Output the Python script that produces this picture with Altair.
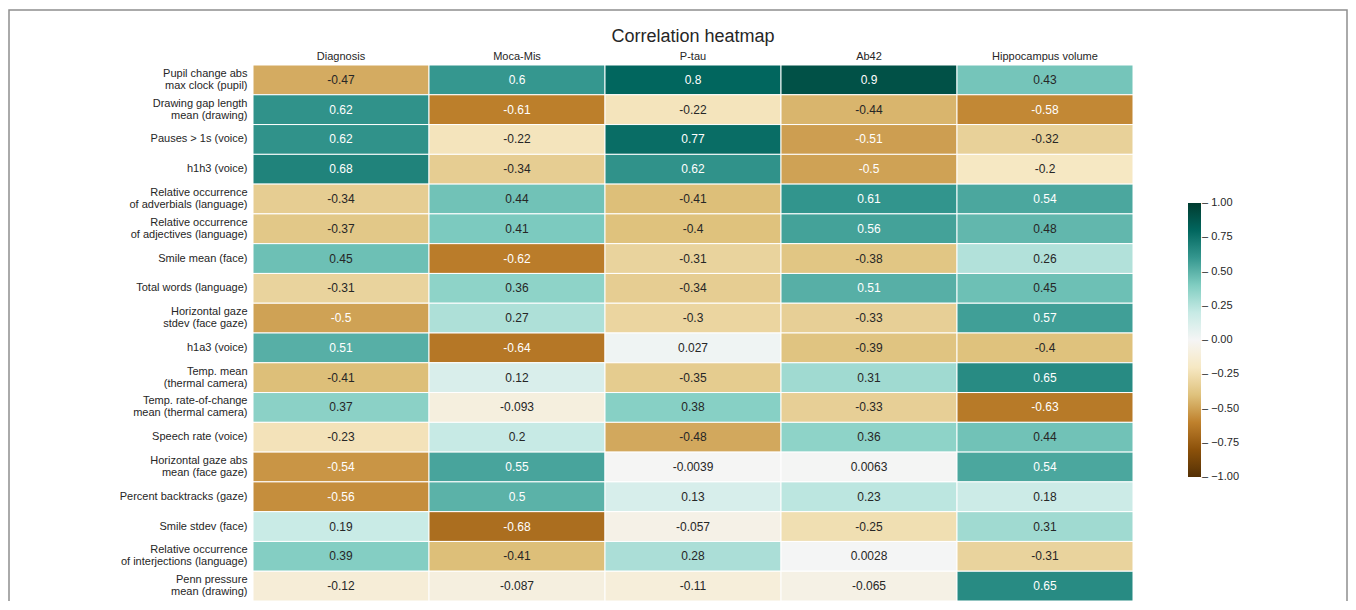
import altair as alt
import pandas as pd

columns = ["Diagnosis", "Moca-Mis", "P-tau", "Ab42", "Hippocampus volume"]
rows = [
    "Pupil change abs|max clock (pupil)",
    "Drawing gap length|mean (drawing)",
    "Pauses > 1s (voice)",
    "h1h3 (voice)",
    "Relative occurrence|of adverbials (language)",
    "Relative occurrence|of adjectives (language)",
    "Smile mean (face)",
    "Total words (language)",
    "Horizontal gaze|stdev (face gaze)",
    "h1a3 (voice)",
    "Temp. mean|(thermal camera)",
    "Temp. rate-of-change|mean (thermal camera)",
    "Speech rate (voice)",
    "Horizontal gaze abs|mean (face gaze)",
    "Percent backtracks (gaze)",
    "Smile stdev (face)",
    "Relative occurrence|of interjections (language)",
    "Penn pressure|mean (drawing)",
]
diagnosis = [-0.47, 0.62, 0.62, 0.68, -0.34, -0.37, 0.45, -0.31, -0.5, 0.51, -0.41, 0.37, -0.23, -0.54, -0.56, 0.19, 0.39, -0.12]
moca_mis = [0.6, -0.61, -0.22, -0.34, 0.44, 0.41, -0.62, 0.36, 0.27, -0.64, 0.12, -0.093, 0.2, 0.55, 0.5, -0.68, -0.41, -0.087]
p_tau = [0.8, -0.22, 0.77, 0.62, -0.41, -0.4, -0.31, -0.34, -0.3, 0.027, -0.35, 0.38, -0.48, -0.0039, 0.13, -0.057, 0.28, -0.11]
ab42 = [0.9, -0.44, -0.51, -0.5, 0.61, 0.56, -0.38, 0.51, -0.33, -0.39, 0.31, -0.33, 0.36, 0.0063, 0.23, -0.25, 0.0028, -0.065]
hippocampus = [0.43, -0.58, -0.32, -0.2, 0.54, 0.48, 0.26, 0.45, 0.57, -0.4, 0.65, -0.63, 0.44, 0.54, 0.18, 0.31, -0.31, 0.65]
legend_ticks = [-0.9999, -0.75, -0.5, -0.25, 0.0, 0.25, 0.5, 0.75, 0.9999]

# matplotlib BrBG colormap anchor colours (11 ColorBrewer stops)
brbg_stops = [-1.0, -0.8, -0.6, -0.4, -0.2, 0.0, 0.2, 0.4, 0.6, 0.8, 1.0]
brbg_colors = ["#543005", "#8c510a", "#bf812d", "#dfc27d", "#f6e8c3", "#f5f5f5",
               "#c7eae5", "#80cdc1", "#35978f", "#01665e", "#003c30"]

series = [diagnosis, moca_mis, p_tau, ab42, hippocampus]
records = []
for col, vals in zip(columns, series):
    for r, v in zip(rows, vals):
        records.append({"row": r, "col": col, "value": v, "label": str(v)})
df = pd.DataFrame(records)

FONT = "Liberation Sans"
W, H = 880, 536

x_enc = alt.X("col:N", sort=columns, title=None,
              scale=alt.Scale(paddingInner=0, paddingOuter=0),
              axis=alt.Axis(orient="top", ticks=False, domain=False, labelAngle=0,
                            labelFontSize=11, labelFont=FONT, labelColor="#262626",
                            labelPadding=4))
y_enc = alt.Y("row:N", sort=rows, title=None,
              scale=alt.Scale(paddingInner=0, paddingOuter=0),
              axis=alt.Axis(ticks=False, domain=False, labelFontSize=11, labelFont=FONT,
                            labelColor="#262626", labelPadding=6, labelLineHeight=12,
                            labelOffset={"condition": {"test": "indexof(datum.value, '|') >= 0",
                                                       "value": -6}, "value": 0},
                            labelExpr="split(datum.label, '|')", labelLimit=300))

base = alt.Chart(df)

cells = base.mark_rect(stroke="white", strokeWidth=1).encode(
    x=x_enc, y=y_enc,
    color=alt.Color("value:Q",
                    scale=alt.Scale(domain=brbg_stops, range=brbg_colors, interpolate="rgb"),
                    legend=alt.Legend(title=None, orient="none", legendX=935, legendY=138,
                                      direction="vertical", gradientLength=274,
                                      gradientThickness=13, values=legend_ticks,
                                      labelFont=FONT, labelFontSize=11, labelColor="#262626",
                                      labelOffset=1,
                                      labelExpr="'– ' + replace(format(datum.value, '.2f'), '-', '−')",
                                      padding=0, gradientStrokeWidth=0)),
)

texts = base.mark_text(font=FONT, fontSize=12).encode(
    x=alt.X("col:N", sort=columns),
    y=alt.Y("row:N", sort=rows),
    text="label:N",
    color=alt.condition("abs(datum.value) >= 0.5", alt.value("white"), alt.value("#262626")),
)

frame = alt.Chart(pd.DataFrame({"k": [0]})).mark_rect(
    filled=False, stroke="#8f8f8f", strokeWidth=1.5
).encode(x=alt.value(-244), x2=alt.value(1094), y=alt.value(-55), y2=alt.value(H + 40))

chart = alt.layer(frame, cells, texts).properties(
    width=W, height=H,
    title=alt.TitleParams("Correlation heatmap", fontSize=18, font=FONT, fontWeight="normal",
                          color="#262626", anchor="middle", frame="group", offset=0,
                          baseline="alphabetic", dy=51),
    autosize=alt.AutoSizeParams(type="none"),
    padding={"left": 245, "top": 57, "right": 215, "bottom": 0},
).configure_view(stroke=None)

chart.save("out.html", embed_options={"renderer": "svg", "actions": False})
